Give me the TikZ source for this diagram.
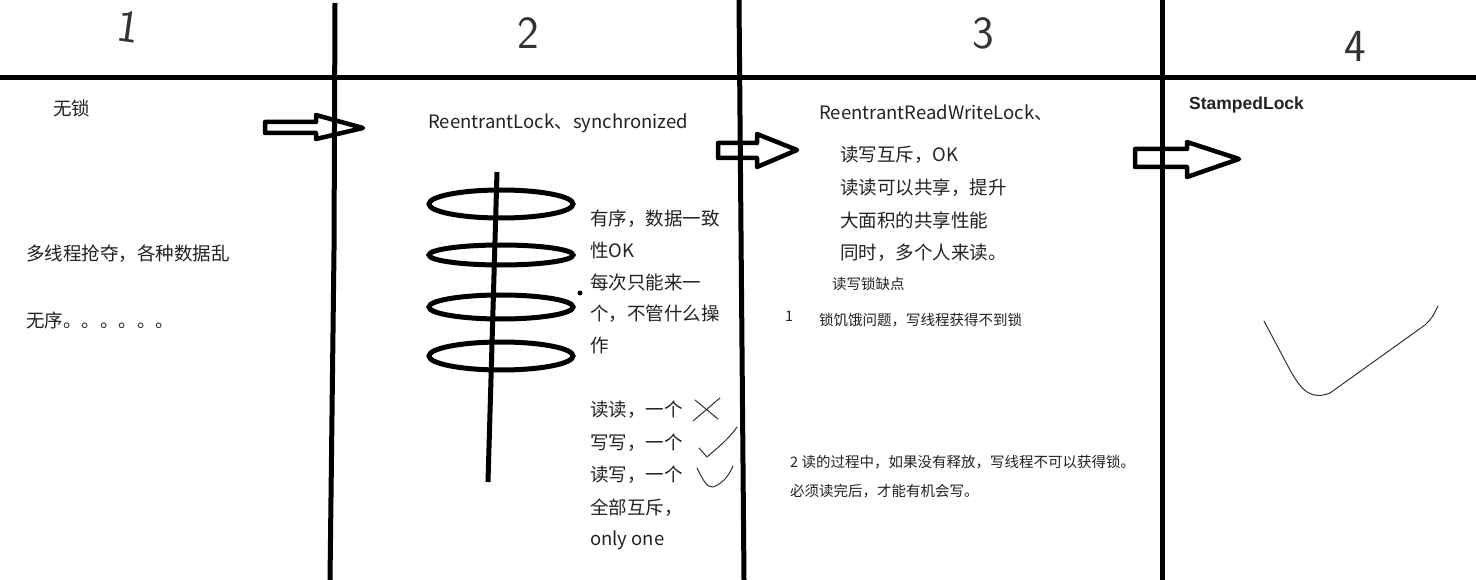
\documentclass[tikz,border=0pt]{standalone}
\usepackage{fontspec}
\setmainfont{Noto Sans CJK SC}
\newfontfamily\boldlatin{Liberation Sans}
\usetikzlibrary{calc}
\definecolor{inkcolor}{RGB}{34,34,34}
\tikzset{
  txt/.style    = {anchor=west, inner sep=0pt, text=inkcolor,
                   font=\fontsize{18.5}{22}\selectfont},
  small/.style  = {txt, font=\fontsize{14.5}{17}\selectfont},
  wall/.style   = {line width=5pt},
  ring/.style   = {line width=5pt},
  blockarrow/.style = {line width=4.5pt, line join=round},
  hand/.style   = {line width=1pt, line cap=round, line join=round, draw=black!80},
  digit/.style  = {inner sep=0pt, text=black!80, font=\sffamily\fontsize{46}{46}\selectfont},
}

\begin{document}
\begin{tikzpicture}[x=1pt, y=-1pt]
  \useasboundingbox[fill=white] (0,0) rectangle (1476,580);
  % grid of the four columns
  \draw[wall] (0,78) -- (1476,78);
  \draw[wall] (335,3) -- (334,250) -- (330,580);
  \draw[wall] (739,0) -- (744,580);
  \draw[wall] (1162,0) -- (1162,580);
  % column numbers
  \node[digit, rotate=-8] (n1) at (128,27) {1};
  \node[digit] (n2) at (528,33) {2};
  \node[digit] (n3) at (983,33) {3};
  \node[digit] (n4) at (1355,46) {4};

  % column 1
  \node[txt] (nolock) at (53,108) {无锁};
  \node[txt] (chaos) at (26,254) {多线程抢夺，各种数据乱};
  \node[txt] (unordered) at (26,320) {无序。。。。。。};
  \draw[blockarrow] (265,122) -- (316,122) -- (316,115) -- (363,128)
    -- (316,139) -- (316,133) -- (265,133) -- cycle;

  % column 2
  \node[txt] (excl) at (428,123) {ReentrantLock、synchronized};
  \draw[ring] (497,172) -- (488,482);
  \foreach \y/\ry in {204/14, 255/10, 307/12, 356/14}
    \draw[ring] (501,\y) ellipse [x radius=72, y radius=\ry];
  \fill (580,293) circle (2.5);
  \foreach \t [count=\i from 0] in {有序，数据一致, 性OK, 每次只能来一,
                                     个，不管什么操, 作}
    \node[txt] (ord\i) at (590,219+31.5*\i) {\t};
  \foreach \t [count=\i from 0] in {读读，一个, 写写，一个, 读写，一个,
                                     全部互斥，, only one}
    \node[txt] (rw\i) at (590,410+32.5*\i) {\t};
  \draw[hand] (695,400) -- (718,419);
  \draw[hand] (720,398) -- (693,421);
  \draw[hand] (699,448) -- (707,457) .. controls (715,450) and (728,440) .. (737,427);
  \draw[hand] (697,468) .. controls (703,480) and (707,488) .. (713,487)
    .. controls (722,484) and (729,476) .. (733,466);
  \draw[blockarrow] (718,143) -- (757,143) -- (757,134) -- (797,150)
    -- (757,167) -- (757,158) -- (718,158) -- cycle;

  % column 3
  \node[txt] (rrw) at (819,113) {ReentrantReadWriteLock、};
  \foreach \t [count=\i from 0] in {读写互斥，OK, 读读可以共享，提升,
                                     大面积的共享性能, 同时，多个人来读。}
    \node[txt] (share\i) at (840,155+32.5*\i) {\t};
  \node[small] (cons) at (832,284) {读写锁缺点};
  \node[small] (c1num) at (785,316) {1};
  \node[small] (c1) at (819,320) {锁饥饿问题，写线程获得不到锁};
  \node[small] (c2) at (790,462) {2 读的过程中，如果没有释放，写线程不可以获得锁。};
  \node[small] (c2b) at (790,491) {必须读完后，才能有机会写。};
  \draw[blockarrow] (1135,149) -- (1187,149) -- (1187,142) -- (1239,159)
    -- (1187,177) -- (1187,167) -- (1135,167) -- cycle;

  % column 4
  \node[txt, font=\boldlatin\bfseries\fontsize{17.5}{20}\selectfont] (stamped)
    at (1189,105) {StampedLock};
  \draw[hand] (1264,321) -- (1290,370) .. controls (1302,392) and (1312,400) .. (1330,393)
    -- (1425,325) .. controls (1432,318) .. (1438,306);
\end{tikzpicture}
\end{document}
